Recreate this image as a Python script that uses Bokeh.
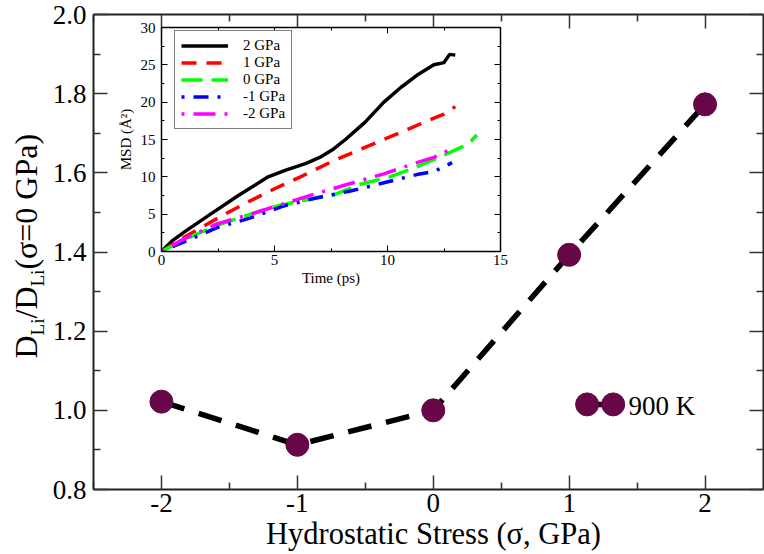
import math
from bokeh.plotting import figure
from bokeh.models import (Range1d, LinearAxis, FixedTicker, Label, Legend, LegendItem,
                          GridBox, CustomJSTickFormatter)
from bokeh.embed import file_html
from bokeh.resources import INLINE

# ---------------- main data ----------------
stress = [-2, -1, 0, 1, 2]
d_ratio = [1.022, 0.913, 1.0, 1.393, 1.773]
x_ticks = [-2, -1, 0, 1, 2]
x_minor = [-2.5, -1.5, -0.5, 0.5, 1.5]
x_tick_labels = ["-2", "-1", "0", "1", "2"]
y_ticks = [0.8, 1.0, 1.2, 1.4, 1.6, 1.8, 2.0]
y_minor = [0.9, 1.1, 1.3, 1.5, 1.7, 1.9]
y_tick_labels = ["0.8", "1.0", "1.2", "1.4", "1.6", "1.8", "2.0"]
series_label = "900 K"
x_title = "Hydrostatic Stress (σ, GPa)"

# ---------------- inset data ----------------
t_p2 = [0, 0.5, 1.0, 2.17, 3.4, 4.72, 5.5, 6.4, 7.0, 7.6, 8.14, 9.0, 9.84, 10.6, 11.3, 12.05, 12.5, 12.75, 13.0]
msd_p2 = [0, 1.5, 2.6, 5.0, 7.5, 10.0, 10.9, 11.8, 12.6, 13.7, 15.0, 17.3, 20.0, 22.0, 23.6, 25.0, 25.3, 26.4, 26.3]
t_p1 = [0, 1, 2.8, 4, 5, 6.15, 7.5, 8.5, 9.84, 11, 12, 12.5, 13.0]
msd_p1 = [0, 1.9, 5.0, 6.9, 8.4, 10.0, 12.0, 13.3, 15.0, 16.5, 17.8, 18.4, 19.4]
t_0 = [0, 1, 2.46, 3.94, 5.0, 6.2, 7.63, 8.8, 10.1, 11.2, 12.2, 13.3, 13.7, 13.95]
msd_0 = [0, 1.6, 3.5, 5.0, 6.0, 6.8, 7.6, 9.0, 10.0, 11.2, 12.5, 14.0, 14.8, 15.6]
t_m1 = [0, 1, 2.46, 3.94, 5.41, 6.89, 8.36, 9.84, 11.3, 12.05, 12.86]
msd_m1 = [0, 1.3, 3.2, 4.5, 6.1, 7.2, 8.1, 9.2, 10.3, 10.7, 11.9]
t_m2 = [0, 1, 2.46, 3.94, 5.41, 6.89, 8.36, 9.84, 11.3, 12.05, 13.0]
msd_m2 = [0, 1.7, 3.7, 5.0, 6.4, 7.8, 9.1, 10.4, 11.9, 12.6, 14.0]
inset_labels = ["2 GPa", "1 GPa", "0 GPa", "-1 GPa", "-2 GPa"]
inset_x_ticks = [0, 5, 10, 15]
inset_x_minor = [2.5, 7.5, 12.5]
inset_y_ticks = [0, 5, 10, 15, 20, 25, 30]
inset_y_minor = [2.5, 7.5, 12.5, 17.5, 22.5, 27.5]

FONT = "Liberation Serif"
TICK_FONT = "'Liberation Serif', serif"
MAROON = "#670748"

LABEL_JS = """
for (let i = 0; i < tvals.length; i++) {
    if (Math.abs(tvals[i] - tick) < 1e-9) { return tlabs[i]; }
}
return String(tick);
"""
BLANK_JS = "return '';"

# ---------------- main figure ----------------
p = figure(width=764, height=554, x_range=Range1d(-2.5, 2.43), y_range=Range1d(0.8, 2.0),
           output_backend="svg", toolbar_location=None, frame_align=False,
           min_border_left=93, min_border_right=1, min_border_top=14, min_border_bottom=65)
p.background_fill_color = "white"
p.border_fill_color = "white"
p.outline_line_color = None
p.grid.visible = False

def style_axis(ax, ticks, minor, labels=None, show_labels=True):
    ax.ticker = FixedTicker(ticks=ticks, minor_ticks=minor)
    ax.axis_line_color = "#222222"
    ax.axis_line_width = 2
    ax.major_tick_in = 14
    ax.major_tick_out = 0
    ax.minor_tick_in = 7
    ax.minor_tick_out = 0
    ax.major_tick_line_color = "#333333"
    ax.minor_tick_line_color = "#333333"
    ax.major_tick_line_width = 1.5
    ax.minor_tick_line_width = 1.5
    if show_labels:
        ax.major_label_text_font = TICK_FONT
        ax.major_label_text_font_size = "27px"
        ax.major_label_text_color = "black"
        if labels is not None:
            ax.formatter = CustomJSTickFormatter(args=dict(tvals=ticks, tlabs=labels), code=LABEL_JS)
    else:
        ax.formatter = CustomJSTickFormatter(code=BLANK_JS)
        ax.major_label_text_font_size = "1px"
        ax.major_label_standoff = 0
        ax.axis_label_standoff = 0
        ax.axis_label = None

style_axis(p.xaxis[0], x_ticks, x_minor, x_tick_labels)
p.xaxis[0].major_label_standoff = 4
style_axis(p.yaxis[0], y_ticks, y_minor, y_tick_labels)
p.yaxis[0].major_label_standoff = 7

top_ax = LinearAxis()
style_axis(top_ax, x_ticks, x_minor, show_labels=False)
p.add_layout(top_ax, "above")
right_ax = LinearAxis()
style_axis(right_ax, y_ticks, y_minor, show_labels=False)
p.add_layout(right_ax, "right")

p.line(stress, d_ratio, line_color="black", line_width=5.5, line_dash="24 15")
p.scatter(stress, d_ratio, size=23, fill_color=MAROON, line_color=MAROON, marker="circle")

# legend key for the 900 K series (decoration, in data units)
key_x = [1.132, 1.324]
key_y = [1.015, 1.015]
p.line(key_x, key_y, line_color="black", line_width=5.5)
p.scatter(key_x, key_y, size=23, fill_color=MAROON, line_color=MAROON, marker="circle")
p.add_layout(Label(x=535, y=84, x_units="screen", y_units="screen", text=series_label,
                   text_font=FONT, text_font_size="27px", text_color="black",
                   text_align="left", text_baseline="alphabetic"))

# ---------------- inset figure ----------------
inset = figure(width=401, height=276, x_range=Range1d(0, 15), y_range=Range1d(0, 30),
               output_backend="svg", toolbar_location=None, frame_align=False,
               min_border_left=50, min_border_right=12, min_border_top=7, min_border_bottom=45)
inset.background_fill_color = "white"
inset.border_fill_alpha = 0
inset.outline_line_color = None
inset.grid.visible = False

def style_inset_axis(ax, ticks, minor, show_labels=True):
    ax.ticker = FixedTicker(ticks=ticks, minor_ticks=minor)
    ax.axis_line_color = "black"
    ax.axis_line_width = 1.5
    ax.major_tick_in = 6
    ax.major_tick_out = 0
    ax.minor_tick_in = 3
    ax.minor_tick_out = 0
    ax.major_tick_line_color = "black"
    ax.minor_tick_line_color = "black"
    if show_labels:
        ax.major_label_text_font = TICK_FONT
        ax.major_label_text_font_size = "15px"
        ax.major_label_text_color = "black"
        ax.axis_label_text_font = FONT
        ax.axis_label_text_font_size = "15px"
        ax.axis_label_text_font_style = "normal"
        ax.axis_label_text_color = "black"
    else:
        ax.formatter = CustomJSTickFormatter(code=BLANK_JS)
        ax.major_label_text_font_size = "1px"
        ax.major_label_standoff = 0
        ax.axis_label_standoff = 0

style_inset_axis(inset.xaxis[0], inset_x_ticks, inset_x_minor)
inset.xaxis[0].axis_label = "Time (ps)"
inset.xaxis[0].major_label_standoff = 3
inset.xaxis[0].axis_label_standoff = 2
style_inset_axis(inset.yaxis[0], inset_y_ticks, inset_y_minor)
inset.yaxis[0].axis_label = "MSD (Å²)"
inset.yaxis[0].major_label_standoff = 6
inset.yaxis[0].axis_label_standoff = 4
it = LinearAxis()
style_inset_axis(it, inset_x_ticks, inset_x_minor, show_labels=False)
inset.add_layout(it, "above")
ir = LinearAxis()
style_inset_axis(ir, inset_y_ticks, inset_y_minor, show_labels=False)
inset.add_layout(ir, "right")

series = [(t_p2, msd_p2, "black", None), (t_p1, msd_p1, "red", "15 10"),
          (t_0, msd_0, "lime", "21 9"), (t_m1, msd_m1, "blue", "3 9 15 9"),
          (t_m2, msd_m2, "magenta", "3 9 22 9")]
items = []
for (tx, ty, col, dash), lab in zip(series, inset_labels):
    kw = dict(line_color=col, line_width=3.5)
    if dash:
        kw["line_dash"] = dash
    r = inset.line(tx, ty, **kw)
    items.append(LegendItem(label=lab, renderers=[r]))

leg = Legend(items=items, location=(13, 122))
leg.label_text_font = FONT
leg.label_text_font_size = "15px"
leg.label_text_color = "black"
leg.label_height = 15
leg.glyph_height = 15
leg.glyph_width = 47
leg.label_standoff = 15
leg.spacing = 0
leg.padding = 6
leg.margin = 0
leg.border_line_color = "black"
leg.border_line_width = 1.5
leg.background_fill_color = "white"
leg.background_fill_alpha = 1
inset.add_layout(leg, "center")
inset.margin = (20, 0, 0, 111)

# ---------------- text overlay (axis titles) ----------------
ov = figure(width=764, height=554, x_range=Range1d(0, 764), y_range=Range1d(0, 554),
            output_backend="svg", toolbar_location=None, frame_align=False,
            x_axis_location=None, y_axis_location=None, min_border=0)
ov.background_fill_alpha = 0
ov.border_fill_alpha = 0
ov.outline_line_color = None
ov.grid.visible = False

H = 554
ov.add_layout(Label(x=433, y=H - 545 + 12, x_units="screen", y_units="screen", text=x_title,
                    text_font=FONT, text_font_size="30.5px", text_color="black",
                    text_align="center", text_baseline="alphabetic"))

MAIN = 32
SUB = 19
pieces = [("D", MAIN, 0, 0.722), ("Li", SUB, 12, 0.889), ("/D", MAIN, 0, 1.0),
          ("Li", SUB, 12, 0.889), ("(σ=0 GPa)", MAIN, 0, 4.25)]
base_x = 25
pos_y = H - 358
for txt, size, shift, em in pieces:
    ov.add_layout(Label(x=base_x + shift, y=pos_y, x_units="screen", y_units="screen",
                        text=txt, angle=math.pi / 2, text_font=FONT,
                        text_font_size=f"{size}px", text_color="black",
                        text_align="left", text_baseline="alphabetic"))
    pos_y += em * size

p.margin = (0, 0, 0, 0)
ov.margin = (0, 0, 0, 0)

layout = GridBox(children=[(p, 0, 0), (inset, 0, 0), (ov, 0, 0)])
open("out.html", "w").write(file_html(layout, INLINE))
